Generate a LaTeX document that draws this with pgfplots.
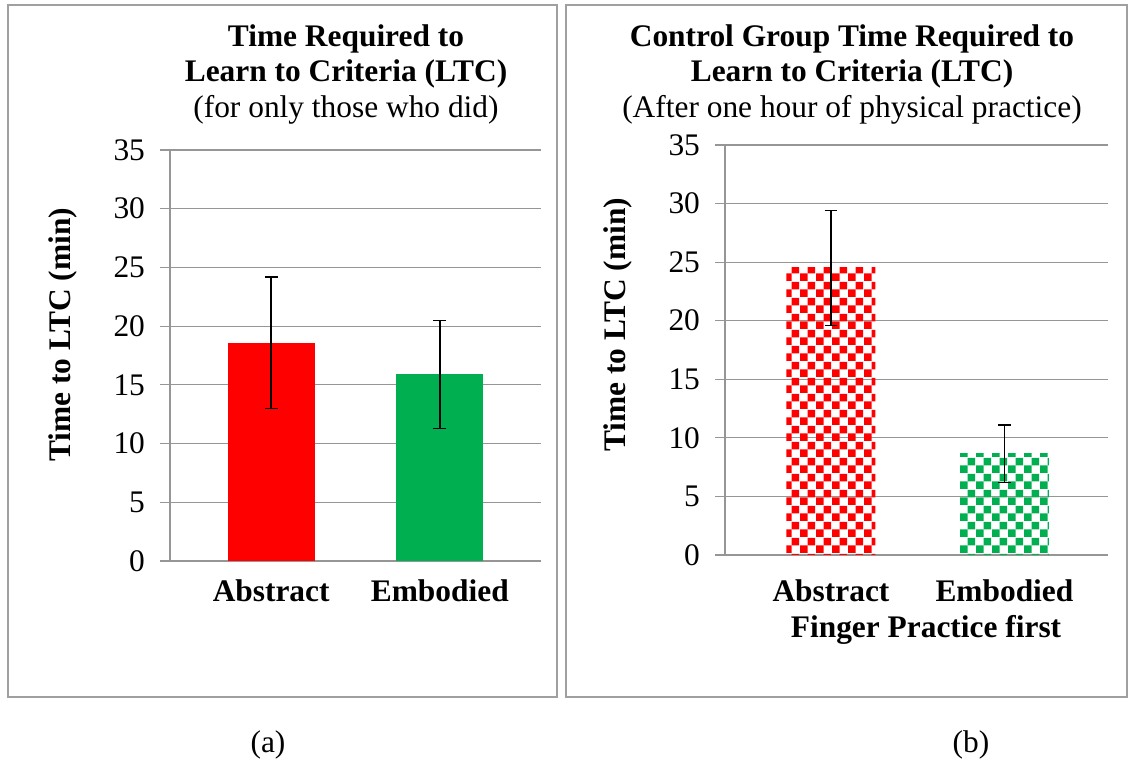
\documentclass[border=0pt]{standalone}
\usepackage{fontspec}
\setmainfont{Liberation Serif}
\usepackage{pgfplots}
\pgfplotsset{compat=1.18}
\usetikzlibrary{patterns.meta}
\definecolor{exred}{RGB}{255,0,0}
\definecolor{exgreen}{RGB}{0,176,80}
\definecolor{gridgray}{RGB}{150,150,150}
\definecolor{framegray}{RGB}{160,160,160}

\tikzdeclarepattern{
  name=bigchecker,
  type=uncolored,
  bottom left={(0pt,0pt)},
  top right={(8pt,8pt)},
  tile size={(8pt,8pt)},
  code={
    \fill (0pt,0pt) rectangle (4pt,4pt);
    \fill (4pt,4pt) rectangle (8pt,8pt);
  }
}

\newcommand\fs{\fontsize{15.7}{18}\selectfont}

\pgfplotsset{
  excel/.style={
    scale only axis,
    ymin=0, ymax=35, ytick={0,5,...,35},
    axis x line*=bottom, axis y line*=left,
    axis line style={draw=gridgray, line width=0.6pt, -},
    ymajorgrids, grid style={draw=gridgray, line width=0.6pt},
    xtick={0,1}, xticklabels={Abstract,Embodied},
    x tick style={draw=none},
    y tick style={draw=gridgray, line width=0.6pt},
    tick align=outside, major tick length=5pt,
    xticklabel style={font=\fs\bfseries},
    yticklabel style={font=\fs, xshift=-4pt},
    /pgf/number format/assume math mode=true,
    ybar, bar shift=0pt,
    error bars/y dir=both, error bars/y explicit,
    error bars/error mark options={rotate=90, mark size=3.2pt, line width=0.7pt, black},
    error bars/error bar style={line width=0.7pt, black},
  }
}

\begin{document}
\begin{tikzpicture}
\useasboundingbox (0pt,0pt) rectangle (566pt,380.5pt);
% frames
\draw[framegray, line width=0.6pt] (4pt,32pt) rectangle (278.5pt,378pt);
\draw[framegray, line width=0.6pt] (283pt,32pt) rectangle (563.5pt,378pt);

% left chart
\begin{axis}[excel, at={(85pt,100pt)}, anchor=south west,
  width=185.5pt, height=205.5pt, xmin=-0.6, xmax=1.6, bar width=43.5pt,
  xticklabel style={yshift=-1pt}]
\addplot[fill=exred, draw=none] coordinates {(0,18.6) +- (0,5.6)};
\addplot[fill=exgreen, draw=none] coordinates {(1,15.9) +- (0,4.6)};
\end{axis}

% right chart
\begin{axis}[excel, at={(362.5pt,103pt)}, anchor=south west,
  width=191.5pt, height=205pt, xmin=-0.611, xmax=1.597, bar width=44.5pt,
  xticklabel style={yshift=-4pt}]
\addplot[pattern={bigchecker}, pattern color=exred, draw=none] coordinates {(0,24.5) +- (0,4.9)};
\addplot[pattern={bigchecker}, pattern color=exgreen, draw=none] coordinates {(1,8.65) +- (0,2.45)};
\end{axis}

% titles
\node[anchor=base, font=\fs\bfseries] at (173pt,357pt) {Time Required to};
\node[anchor=base, font=\fs\bfseries] at (173pt,339.5pt) {Learn to Criteria (LTC)};
\node[anchor=base, font=\fs] at (173pt,321.5pt) {(for only those who did)};

\node[anchor=base, font=\fs\bfseries] at (852pt*0.5,357pt) {Control Group Time Required to};
\node[anchor=base, font=\fs\bfseries] at (852pt*0.5,339.5pt) {Learn to Criteria (LTC)};
\node[anchor=base, font=\fs] at (852pt*0.5,321.5pt) {(After one hour of physical practice)};

% y labels
\node[rotate=90, font=\fs\bfseries] at (31.5pt,213pt) {Time to LTC (min)};
\node[rotate=90, font=\fs\bfseries] at (309pt,218pt) {Time to LTC (min)};

% x label right
\node[anchor=base, font=\fs\bfseries] at (463pt,61.5pt) {Finger Practice first};

% captions
\node[anchor=base, font=\fs] at (134pt,4pt) {(a)};
\node[anchor=base, font=\fs] at (485.5pt,4pt) {(b)};
\end{tikzpicture}
\end{document}
